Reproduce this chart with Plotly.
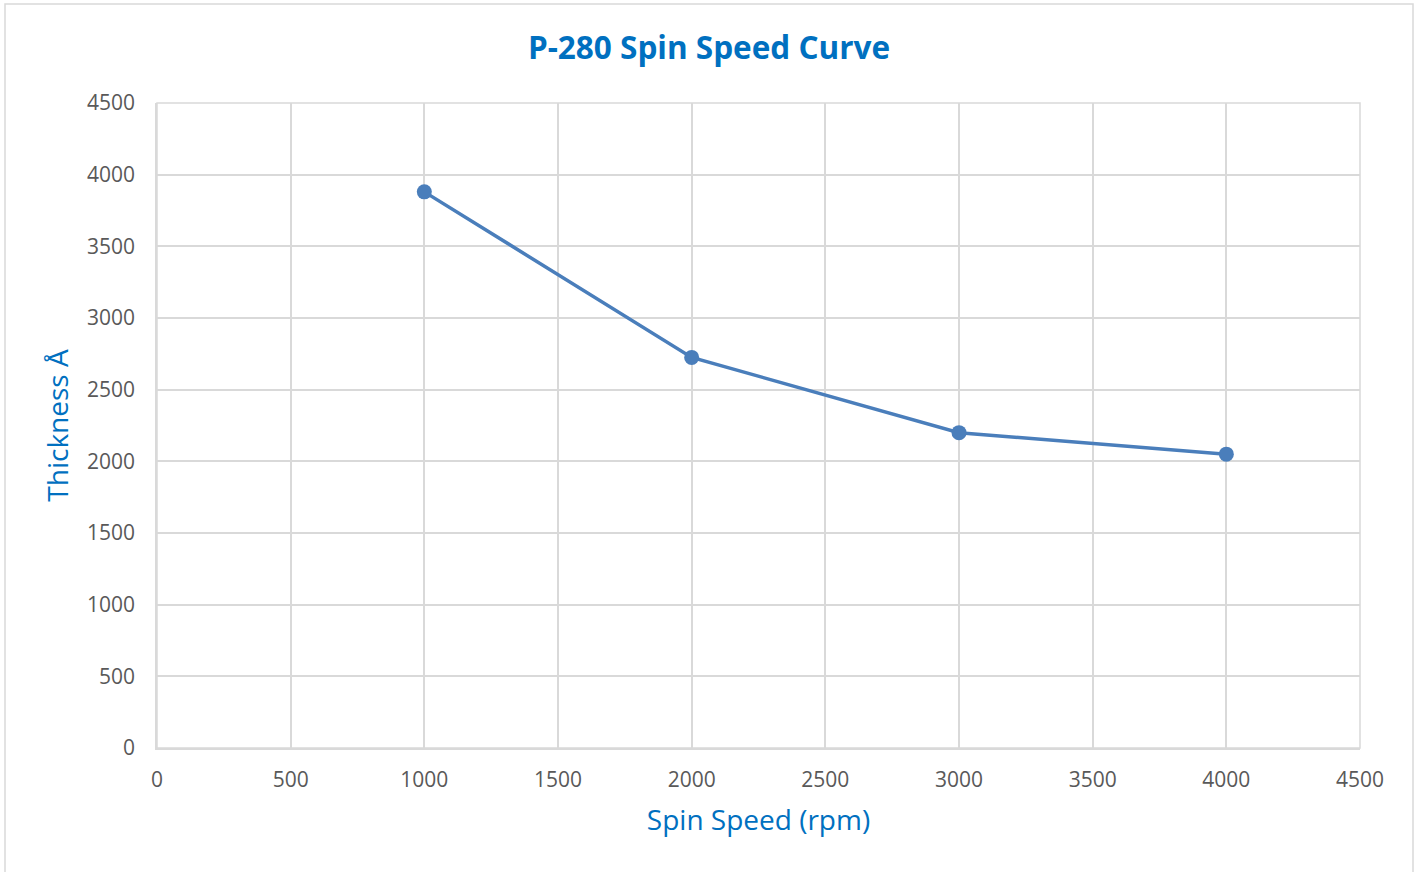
import plotly.graph_objects as go

spin_speed = [1000, 2000, 3000, 4000]
thickness = [3880, 2725, 2200, 2050]

title_text = "P-280 Spin Speed Curve"
x_title = "Spin Speed (rpm)"
y_title = "Thickness Å"

FONT = "Open Sans"
line_color = "#4a7ebb"
grid_color = "#d9d9d9"
tick_color = "#595959"
title_color = "#0070c0"

W, H = 1418, 872
L, R, T, B = 157, 58, 103, 124

fig = go.Figure()
fig.add_trace(go.Scatter(
    x=spin_speed, y=thickness, mode="lines+markers",
    line=dict(color=line_color, width=3.5),
    marker=dict(color=line_color, size=15),
    showlegend=False, cliponaxis=False,
))

fig.update_layout(
    width=W, height=H,
    margin=dict(l=L, r=R, t=T, b=B),
    paper_bgcolor="white", plot_bgcolor="white",
    font=dict(family=FONT, color=tick_color),
    title=dict(text="<b>" + title_text + "</b>", x=0.5, xref="container", xanchor="center",
               y=1 - 48 / H, yanchor="middle",
               font=dict(family=FONT, size=31.5, color=title_color)),
    xaxis=dict(range=[0, 4500], dtick=500, tick0=0,
               showgrid=True, gridcolor=grid_color, gridwidth=1.5,
               showline=True, linecolor=grid_color, linewidth=1.5,
               zeroline=False, ticks="", ticklabelstandoff=12,
               tickfont=dict(family=FONT, size=21, color=tick_color),
               title=dict(text=x_title, standoff=18,
                          font=dict(family=FONT, size=28, color=title_color))),
    yaxis=dict(range=[0, 4500], dtick=500, tick0=0,
               showgrid=True, gridcolor=grid_color, gridwidth=1.5,
               showline=True, linecolor=grid_color, linewidth=1.5,
               zeroline=False, ticks="", ticklabelstandoff=16,
               tickfont=dict(family=FONT, size=21, color=tick_color),
               title=dict(text=y_title, standoff=10,
                          font=dict(family=FONT, size=28, color=title_color))),
)

pw, ph = W - L - R, H - T - B
fig.add_shape(type="rect", xref="paper", yref="paper", x0=0, x1=1, y0=0, y1=1,
              line=dict(color=grid_color, width=1.5), layer="below")
# outer chart border (px: left 5, right 1413, top 4, bottom beyond view)
fig.add_shape(type="rect", xref="paper", yref="paper",
              x0=(5 - L) / pw, x1=(1413 - L) / pw,
              y0=-(H + 20 - (H - B)) / ph, y1=(H - B - 4) / ph,
              line=dict(color=grid_color, width=1.5), layer="below")

fig.write_html("out.html", config={"displayModeBar": False},
               post_script="document.body.style.margin='0';document.body.style.overflow='hidden';")
